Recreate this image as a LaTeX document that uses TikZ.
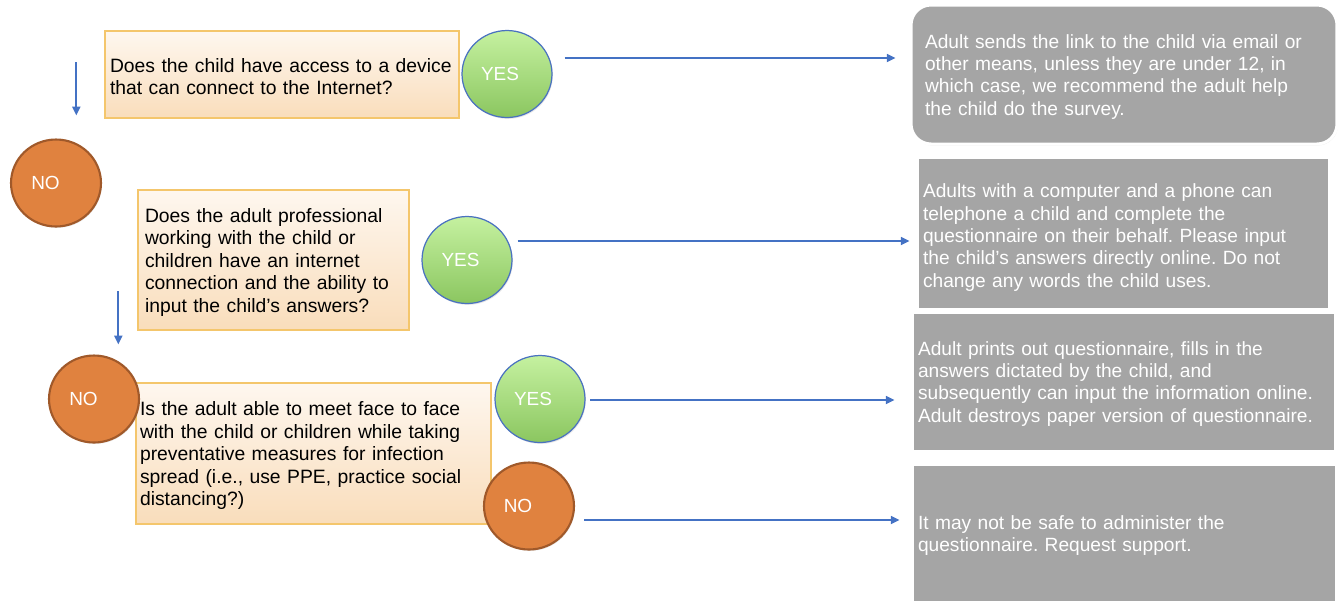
\documentclass[tikz,border=0pt]{standalone}
\usepackage{fontspec}
\setmainfont{Liberation Sans}
\usetikzlibrary{shapes.geometric,shadows,calc,arrows.meta}
\definecolor{qtop}{HTML}{FEF7EF}
\definecolor{qbot}{HTML}{F9DDBB}
\definecolor{qedge}{HTML}{F4C66C}
\definecolor{yestop}{HTML}{C5F1A0}
\definecolor{yesbot}{HTML}{8BC660}
\definecolor{yesedge}{HTML}{4A72C0}
\definecolor{nofill}{HTML}{E0823F}
\definecolor{noedge}{HTML}{A0592A}
\definecolor{ansfill}{HTML}{A5A5A5}
\definecolor{flowblue}{HTML}{4472C4}
\frenchspacing
\begin{document}
\begin{tikzpicture}[x=0.02cm,y=0.02cm,
  question/.style={rectangle,draw=qedge,line width=0.8pt,top color=qtop,bottom color=qbot,
    align=left,inner ysep=0pt,font=\fontsize{11}{12.8}\selectfont,
    execute at begin node=\rule{0pt}{10.5pt},
    drop shadow={opacity=0.25,shadow xshift=0.6pt,shadow yshift=-0.8pt}},
  answer/.style={rectangle,draw=white,line width=1.7pt,fill=ansfill,text=white,
    align=left,inner ysep=0pt,font=\fontsize{10.9}{12.7}\selectfont,
    execute at begin node=\rule{0pt}{10.5pt},
    drop shadow={opacity=0.2,shadow xshift=0.5pt,shadow yshift=-0.8pt}},
  yesball/.style={ellipse,draw=yesedge,line width=0.7pt,top color=yestop,bottom color=yesbot,
    text=white,minimum width=1.8cm,minimum height=1.74cm,inner sep=0pt,
    font=\fontsize{10.8}{13}\selectfont,
    drop shadow={opacity=0.2,shadow xshift=0.5pt,shadow yshift=-0.8pt}},
  noball/.style={ellipse,draw=noedge,line width=1.2pt,fill=nofill,
    text=white,minimum width=1.8cm,minimum height=1.74cm,inner sep=0pt,
    font=\fontsize{10.8}{13}\selectfont,
    drop shadow={opacity=0.2,shadow xshift=0.5pt,shadow yshift=-0.8pt}},
  flow/.style={draw=flowblue,line width=1.1pt,-{Triangle[length=5pt,width=4.5pt]}}]
\useasboundingbox (0,0) rectangle (1341,-600);
\node[question,minimum width=7.08cm,minimum height=1.74cm,inner xsep=0.1cm,text width=6.88cm] (q1) at (282,-74.5)
  {Does the child have access to a device\\that can connect to the Internet?};
\node[question,minimum width=5.42cm,minimum height=2.8cm,inner xsep=0.14cm,text width=5.14cm] (q2) at (273.5,-260)
  {Does the adult professional\\working with the child or\\children have an internet\\connection and the ability to\\input the child’s answers?};
\node[question,minimum width=7.1cm,minimum height=2.82cm,inner xsep=0.08cm,text width=6.94cm] (q3) at (313.5,-453.5)
  {Is the adult able to meet face to face\\with the child or children while taking\\preventative measures for infection\\spread (i.e., use PPE, practice social\\distancing?)};
\node[answer,rounded corners=0.4cm,minimum width=8.52cm,minimum height=2.78cm,inner xsep=0.28cm,text width=7.96cm] (ans1) at (1124,-74.5)
  {Adult sends the link to the child via email or\\other means, unless they are under 12, in\\which case, we recommend the adult help\\the child do the survey.};
\node[answer,minimum width=8.26cm,minimum height=3.04cm,inner xsep=0.12cm,text width=8.02cm] (ans2) at (1123.5,-233)
  {\rule{0pt}{13pt}Adults with a computer and a phone can\\telephone a child and complete the\\questionnaire on their behalf. Please input\\the child’s answers directly online. Do not\\change any words the child uses.};
\node[answer,minimum width=8.48cm,minimum height=2.78cm,inner xsep=0.12cm,text width=8.24cm] (ans3) at (1124,-381.5)
  {Adult prints out questionnaire, fills in the\\answers dictated by the child, and\\subsequently can input the information online.\\Adult destroys paper version of questionnaire.};
\node[answer,minimum width=8.5cm,minimum height=2.76cm,inner xsep=0.12cm,text width=8.26cm] (ans4) at (1124.5,-533)
  {It may not be safe to administer the\\questionnaire. Request support.};
\node[yesball] (yes1) at (507,-74) {YES\kern0.28cm};
\node[yesball] (yes2) at (467,-260) {YES\kern0.26cm};
\node[yesball] (yes3) at (540,-399) {YES\kern0.28cm};
\node[noball] (no1) at (56,-183) {NO\kern0.42cm};
\node[noball] (no2) at (94,-399) {NO\kern0.42cm};
\node[noball] (no3) at (529,-506) {NO\kern0.44cm};
\draw[flow] ($(q1.west)+(-28,12.5)$) coordinate (d1) -- ($(d1 |- no1.north)+(0,23)$);
\draw[flow] ($(q2.west)+(-19,-31)$) coordinate (d2) -- ($(d2 |- no2.north)+(0,10)$);
\draw[flow] ($(yes1.east)+(12,16)$) -- ($(yes1.east -| ans1.west)+(-14,16)$);
\draw[flow] ($(yes2.east)+(5,19)$) -- ($(yes2.east -| ans2.west)+(-6,19)$);
\draw[flow] ($(yes3.east)+(4.5,-1)$) -- ($(yes3.east -| ans3.west)+(-16,-1)$);
\draw[flow] ($(no3.east)+(9,-14)$) -- ($(no3.east -| ans4.west)+(-11,-14)$);
\end{tikzpicture}
\end{document}
